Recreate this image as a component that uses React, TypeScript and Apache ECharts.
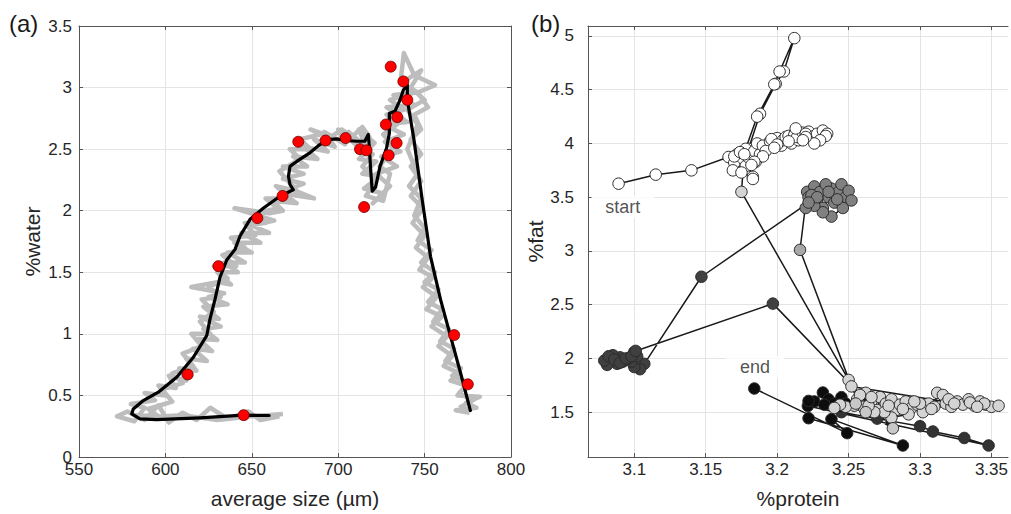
import React, { useEffect, useRef } from "react";
import * as echarts from "echarts";

// ---------- Panel (a): %water vs average size ----------
const sizeTicks = { min: 550, max: 800, interval: 50 };
const waterTicks = { min: 0, max: 3.5, interval: 0.5 };

const greyTrace: [number, number][] = [
  [666, 0.33], [655, 0.3], [648, 0.37], [636, 0.31], [626, 0.4], [618, 0.3], [610, 0.36], [602, 0.28],
  [596, 0.42], [588, 0.3], [578, 0.37], [572, 0.33], [582, 0.29], [588, 0.4], [580, 0.43], [594, 0.46],
  [588, 0.52], [600, 0.5], [596, 0.58], [606, 0.56], [602, 0.66], [612, 0.62], [608, 0.72], [618, 0.7],
  [612, 0.8], [624, 0.78], [616, 0.88], [627, 0.86], [619, 0.96], [630, 0.95], [622, 1.04], [632, 1.06],
  [620, 1.14], [631, 1.12], [622, 1.22], [636, 1.24], [625, 1.3], [634, 1.33], [615, 1.38], [630, 1.42],
  [638, 1.4], [630, 1.5], [642, 1.5], [634, 1.58], [646, 1.58], [636, 1.66], [650, 1.66], [640, 1.74],
  [655, 1.74], [644, 1.82], [660, 1.82], [650, 1.88], [663, 1.92], [640, 2.02], [660, 1.98], [668, 2.0],
  [662, 2.08], [676, 2.06], [668, 2.14], [686, 2.1], [672, 2.18], [680, 2.22], [668, 2.26], [680, 2.3],
  [668, 2.36], [682, 2.36], [674, 2.44], [688, 2.42], [680, 2.52], [694, 2.48], [686, 2.58], [698, 2.52],
  [692, 2.64], [704, 2.54], [700, 2.66], [710, 2.54], [706, 2.64], [716, 2.52], [712, 2.66], [721, 2.55],
  [712, 2.42], [722, 2.4], [714, 2.3], [724, 2.28], [715, 2.18], [726, 2.14], [720, 2.06], [730, 2.2],
  [722, 2.3], [734, 2.36], [725, 2.44], [736, 2.48], [727, 2.56], [738, 2.62], [726, 2.7], [740, 2.72],
  [728, 2.84], [744, 2.86], [732, 2.94], [746, 2.96], [736, 3.04], [738, 3.28], [744, 3.1], [756, 3.02],
  [746, 2.96], [752, 2.84], [744, 2.78], [748, 2.66], [742, 2.58], [748, 2.46], [742, 2.36], [748, 2.24],
  [742, 2.12], [749, 2.02], [743, 1.9], [750, 1.8], [745, 1.7], [752, 1.62], [747, 1.52], [755, 1.46],
  [749, 1.38], [757, 1.3], [751, 1.2], [760, 1.14], [754, 1.06], [763, 0.98], [758, 0.9], [766, 0.82],
  [761, 0.74], [770, 0.68], [765, 0.62], [774, 0.58], [769, 0.5], [782, 0.49], [774, 0.44], [780, 0.4],
  [768, 0.38], [776, 0.36],
];

const greyTrace2: [number, number][] = [
  [668, 0.35], [650, 0.33], [630, 0.3], [610, 0.34], [586, 0.32], [582, 0.34], [596, 0.33], [590, 0.39],
  [604, 0.45], [598, 0.55], [610, 0.6], [604, 0.68], [616, 0.74], [610, 0.84], [621, 0.9], [615, 1.0],
  [626, 1.0], [620, 1.1], [628, 1.18], [621, 1.28], [632, 1.3], [625, 1.38], [636, 1.45], [628, 1.55],
  [641, 1.55], [633, 1.64], [646, 1.7], [638, 1.78], [652, 1.8], [646, 1.9], [658, 1.9], [652, 1.98],
  [665, 2.02], [658, 2.1], [672, 2.1], [664, 2.2], [676, 2.16], [666, 2.32], [678, 2.42], [672, 2.5],
  [684, 2.5], [678, 2.58], [690, 2.62], [684, 2.66], [696, 2.6], [702, 2.66], [708, 2.6], [714, 2.68],
  [718, 2.6], [711, 2.5], [720, 2.46], [714, 2.36], [722, 2.24], [716, 2.12], [726, 2.08], [730, 2.3],
  [724, 2.36], [732, 2.52], [726, 2.62], [734, 2.7], [728, 2.78], [738, 2.82], [730, 2.9], [742, 2.95],
  [738, 3.05], [748, 3.14], [742, 3.0], [750, 2.9], [740, 2.82], [746, 2.7], [740, 2.5], [746, 2.3],
  [741, 2.2], [748, 2.1], [744, 1.96], [750, 1.86], [746, 1.76], [754, 1.68], [748, 1.58], [756, 1.5],
  [750, 1.42], [758, 1.36], [752, 1.26], [760, 1.2], [755, 1.1], [764, 1.04], [759, 0.94], [767, 0.88],
  [762, 0.78], [771, 0.72], [766, 0.66], [776, 0.6], [770, 0.52], [778, 0.46], [770, 0.4],
];

const blackTrace: [number, number][] = [
  [660, 0.337], [645, 0.34], [620, 0.318], [595, 0.303], [585.3, 0.31], [580.5, 0.35], [581.4, 0.39],
  [587.2, 0.458], [595.9, 0.526], [606.5, 0.648], [616.2, 0.81], [623.9, 0.985], [625.8, 1.12],
  [628.7, 1.28], [631.6, 1.46], [635.5, 1.6], [640.3, 1.686], [643.2, 1.795], [649, 1.93], [656.6, 2.02],
  [666.3, 2.118], [674, 2.17], [672.1, 2.213], [671.2, 2.28], [672.1, 2.36], [676, 2.4], [683.6, 2.47],
  [689.4, 2.537], [694.3, 2.577], [699.1, 2.583], [704.9, 2.57], [710.7, 2.564], [715.4, 2.564],
  [717.4, 2.62], [718, 2.52], [718.8, 2.33], [719.7, 2.159], [721.6, 2.19], [724.2, 2.36], [728, 2.51],
  [729.6, 2.63], [729.6, 2.79], [732.9, 2.81], [735.8, 2.9], [737.7, 2.98], [740, 3.02], [740, 2.9],
  [743.8, 2.58], [748.6, 2.09], [753.4, 1.63], [759.2, 1.28], [764.9, 0.985], [770.7, 0.688], [776.5, 0.377],
];

const redDots: [number, number][] = [
  [730.4, 3.17], [737.7, 3.05], [740, 2.9], [734.2, 2.76], [727.6, 2.7], [733.8, 2.55], [729.2, 2.45],
  [715, 2.03], [712.6, 2.5], [716.4, 2.49], [704.3, 2.59], [692.7, 2.57], [676.9, 2.56], [667.8, 2.12],
  [653.2, 1.94], [630.7, 1.55], [612.9, 0.67], [645.3, 0.34], [767.1, 0.99], [775, 0.59],
];

// ---------- Panel (b): %fat vs %protein ----------
const proteinRange = { min: 3.0676, max: 3.3616 };
const fatRange = { min: 1.083, max: 5.093 };
const proteinTicks = [3.1, 3.15, 3.2, 3.25, 3.3, 3.35];
const fatTicks = [1.5, 2, 2.5, 3, 3.5, 4, 4.5, 5];

const fatWhite: [number, number][] = [
  [3.089, 3.626], [3.115, 3.71], [3.14, 3.75], [3.166, 3.874], [3.172, 3.9], [3.17, 3.82], [3.176, 3.86],
  [3.18, 3.95], [3.188, 4.276], [3.199, 4.555], [3.2047, 4.67], [3.212, 4.98], [3.2017, 4.669],
  [3.198, 4.55], [3.186, 4.25], [3.178, 3.95], [3.183, 3.69], [3.169, 3.75], [3.178, 3.79], [3.185, 3.83],
  [3.175, 3.73], [3.17, 3.88], [3.174, 3.92], [3.18, 3.87], [3.184, 3.93], [3.188, 3.9], [3.192, 3.97],
  [3.186, 4.0], [3.19, 3.98], [3.195, 4.02], [3.192, 3.93], [3.2, 4.05], [3.196, 4.04], [3.203, 3.98],
  [3.204, 4.03], [3.206, 4.06], [3.21, 4.0], [3.208, 4.07], [3.212, 4.08], [3.215, 4.03], [3.214, 4.06],
  [3.218, 4.1], [3.213, 4.14], [3.222, 4.11], [3.22, 4.09], [3.225, 4.05], [3.226, 4.07], [3.228, 4.09],
  [3.232, 4.12], [3.235, 4.09], [3.234, 4.07], [3.23, 4.03], [3.226, 4.0], [3.22, 4.06], [3.218, 4.03],
  [3.208, 4.02], [3.2, 3.99], [3.198, 3.96], [3.19, 3.88], [3.184, 3.83], [3.182, 3.8], [3.183, 3.67],
  [3.177, 3.9],
];
const fatLight: [number, number][] = [
  [3.175, 3.55], [3.25, 1.8], [3.256, 1.62], [3.26, 1.55], [3.262, 1.68], [3.266, 1.6], [3.27, 1.52],
  [3.272, 1.64], [3.276, 1.58], [3.28, 1.62], [3.283, 1.52], [3.286, 1.57], [3.29, 1.6], [3.294, 1.54],
  [3.298, 1.57], [3.302, 1.5], [3.306, 1.58], [3.31, 1.55], [3.312, 1.68], [3.316, 1.66], [3.318, 1.58],
  [3.322, 1.55], [3.326, 1.6], [3.33, 1.57], [3.334, 1.62], [3.338, 1.56], [3.342, 1.6], [3.346, 1.57],
  [3.35, 1.55], [3.355, 1.56], [3.345, 1.58], [3.335, 1.59], [3.32, 1.62], [3.3, 1.58], [3.292, 1.48],
  [3.28, 1.45], [3.275, 1.5], [3.268, 1.5], [3.264, 1.56], [3.258, 1.66], [3.254, 1.56], [3.248, 1.55],
  [3.244, 1.57], [3.24, 1.54], [3.266, 1.64], [3.278, 1.56], [3.288, 1.53], [3.296, 1.6], [3.308, 1.53],
  [3.324, 1.58], [3.34, 1.55], [3.252, 1.74],
];
const fatGrey: [number, number][] = [[3.216, 3.01]];
const fatMid: [number, number][] = [
  [3.221, 3.55], [3.222, 3.5], [3.226, 3.6], [3.23, 3.55], [3.228, 3.45], [3.232, 3.4], [3.236, 3.5],
  [3.238, 3.58], [3.24, 3.45], [3.243, 3.55], [3.245, 3.62], [3.248, 3.5], [3.25, 3.56], [3.252, 3.47],
  [3.246, 3.4], [3.238, 3.32], [3.232, 3.36], [3.226, 3.42], [3.22, 3.4], [3.224, 3.52], [3.234, 3.62],
  [3.242, 3.48], [3.236, 3.55], [3.228, 3.5], [3.222, 3.45],
];
const fatDark: [number, number][] = [
  [3.147, 2.76], [3.107, 1.95], [3.104, 1.9], [3.1, 1.92], [3.098, 1.97], [3.102, 2.02], [3.1, 2.06],
  [3.096, 2.0], [3.092, 1.97], [3.09, 2.01], [3.088, 1.95], [3.085, 2.03], [3.083, 1.98], [3.081, 1.94],
  [3.079, 1.98], [3.082, 2.02], [3.086, 1.99], [3.09, 1.96], [3.094, 2.0], [3.098, 2.02], [3.101, 2.07],
  [3.197, 2.51],
];
const fatLightLate: [number, number][] = [[3.281, 1.35], [3.262, 1.5], [3.255, 1.58]];
const fatDarkTail: [number, number][] = [
  [3.245, 1.5], [3.27, 1.44], [3.3, 1.37], [3.309, 1.32], [3.331, 1.26], [3.348, 1.19],
];
const fatBlack: [number, number][] = [
  [3.2215, 1.558], [3.226, 1.6], [3.232, 1.683], [3.236, 1.62], [3.24, 1.58], [3.245, 1.64],
  [3.248, 1.58], [3.243, 1.55], [3.233, 1.57], [3.222, 1.605], [3.222, 1.444], [3.288, 1.19],
  [3.238, 1.435], [3.249, 1.305], [3.184, 1.72],
];
const notes = [
  { name: "start", value: [3.092, 3.41] },
  { name: "end", value: [3.1845, 1.917] },
];

const FONT = "'Liberation Sans', Arial, sans-serif";
const AXIS = "#555555";
const TEXT = "#262626";
const GRID = "#e4e4e4";

export default function App() {
  const ref = useRef<HTMLDivElement>(null);
  useEffect(() => {
    document.body.style.margin = "0";
    document.body.style.overflow = "hidden";
    document.documentElement.style.overflow = "hidden";
    if (!ref.current) return;
    const chart = echarts.init(ref.current, undefined, { renderer: "svg" });

    const tickStyle = { show: true, inside: true, length: 4, lineStyle: { color: AXIS } };
    const lineStyleAx = { show: true, onZero: false, lineStyle: { color: AXIS, width: 1 } };
    const lbl = { color: TEXT, fontSize: 17, fontFamily: FONT, lineHeight: 12 };
    const nameStyle = { color: TEXT, fontSize: 21, fontFamily: FONT };
    const split = { show: true, lineStyle: { color: GRID, width: 1 } };

    const trajectory = [
      ...fatWhite, ...fatLight, ...fatGrey, ...fatMid, ...fatDark, ...fatLightLate, ...fatDarkTail, ...fatBlack,
    ];

    const dotSeries = (data: [number, number][], fill: string, z: number) => ({
      type: "scatter",
      xAxisIndex: 2,
      yAxisIndex: 2,
      data,
      symbolSize: 11.5,
      z,
      itemStyle: { color: fill, borderColor: "#2b2b2b", borderWidth: 1, opacity: 1 },
    });

    const greyLine = (data: [number, number][]) => ({
      type: "line", xAxisIndex: 0, yAxisIndex: 0, data, showSymbol: false, z: 2,
      lineStyle: { color: "#bdbdbd", width: 4.5, join: "round" },
    });

    chart.setOption({
      animation: false,
      backgroundColor: "#ffffff",
      grid: [
        { left: 79, top: 26, width: 432, height: 432 },
        { left: 588, top: 26, width: 423, height: 432 },
      ],
      xAxis: [
        {
          gridIndex: 0, type: "value", position: "bottom", ...sizeTicks,
          axisLine: lineStyleAx, axisTick: tickStyle, axisLabel: { ...lbl, margin: 6 },
          splitLine: split, name: "average size (µm)", nameLocation: "middle", nameGap: 31,
          nameTextStyle: nameStyle,
        },
        {
          gridIndex: 0, type: "value", position: "top", ...sizeTicks,
          axisLine: lineStyleAx, axisTick: tickStyle, axisLabel: { show: false }, splitLine: { show: false },
        },
        {
          gridIndex: 1, type: "value", position: "bottom", ...proteinRange,
          axisLine: lineStyleAx,
          axisTick: { ...tickStyle, customValues: proteinTicks },
          axisLabel: { ...lbl, margin: 6, customValues: proteinTicks, showMinLabel: true, showMaxLabel: true },
          splitLine: split, name: "%protein", nameLocation: "middle", nameGap: 31, nameTextStyle: nameStyle,
        },
        {
          gridIndex: 1, type: "value", position: "top", ...proteinRange,
          axisLine: lineStyleAx, axisTick: { ...tickStyle, customValues: proteinTicks },
          axisLabel: { show: false }, splitLine: { show: false },
        },
      ],
      yAxis: [
        {
          gridIndex: 0, type: "value", position: "left", ...waterTicks,
          axisLine: lineStyleAx, axisTick: tickStyle, axisLabel: { ...lbl, margin: 7 },
          splitLine: split, name: "%water", nameLocation: "middle", nameGap: 36, nameTextStyle: nameStyle,
        },
        {
          gridIndex: 0, type: "value", position: "right", ...waterTicks,
          axisLine: lineStyleAx, axisTick: tickStyle, axisLabel: { show: false }, splitLine: { show: false },
        },
        {
          gridIndex: 1, type: "value", position: "left", ...fatRange,
          axisLine: lineStyleAx,
          axisTick: { ...tickStyle, customValues: fatTicks },
          axisLabel: { ...lbl, margin: 14, customValues: fatTicks },
          splitLine: split, name: "%fat", nameLocation: "middle", nameGap: 37, nameTextStyle: nameStyle,
        },
      ],
      graphic: [
        { type: "text", left: 9, top: 11, style: { text: "(a)", fontSize: 24, fontFamily: FONT, fill: "#1a1a1a" } },
        { type: "text", left: 531, top: 11, style: { text: "(b)", fontSize: 24, fontFamily: FONT, fill: "#1a1a1a" } },
      ],
      series: [
        greyLine(greyTrace),
        greyLine(greyTrace2),
        {
          type: "line", xAxisIndex: 0, yAxisIndex: 0, data: blackTrace, showSymbol: false, z: 3,
          lineStyle: { color: "#000000", width: 3.2, join: "round", cap: "round" },
        },
        {
          type: "scatter", xAxisIndex: 0, yAxisIndex: 0, data: redDots, symbolSize: 11, z: 4,
          itemStyle: { color: "#ff0000", borderColor: "#6b0000", borderWidth: 0.8, opacity: 1 },
        },
        {
          type: "scatter", xAxisIndex: 2, yAxisIndex: 2, data: notes, symbolSize: 1, z: 1,
          itemStyle: { color: "transparent", borderWidth: 0 },
          label: {
            show: true, position: "inside", formatter: "{b}", color: TEXT, fontSize: 18, fontFamily: FONT,
            backgroundColor: "#ffffff", padding: [2, 14],
          },
        },
        {
          type: "line", xAxisIndex: 2, yAxisIndex: 2, data: trajectory, showSymbol: false, z: 2,
          lineStyle: { color: "#1a1a1a", width: 1.5 },
        },
        dotSeries(fatWhite, "#ffffff", 3),
        dotSeries(fatMid, "#808080", 3),
        dotSeries(fatDark, "#404040", 3),
        dotSeries(fatDarkTail, "#333333", 3),
        dotSeries(fatBlack, "#0d0d0d", 3),
        dotSeries(fatGrey, "#a8a8a8", 4),
        dotSeries(fatLight, "#d4d4d4", 4),
        dotSeries(fatLightLate, "#c8c8c8", 4),
      ],
    });
    return () => chart.dispose();
  }, []);
  return <div ref={ref} style={{ width: 1011, height: 514, overflow: "hidden" }} />;
}
